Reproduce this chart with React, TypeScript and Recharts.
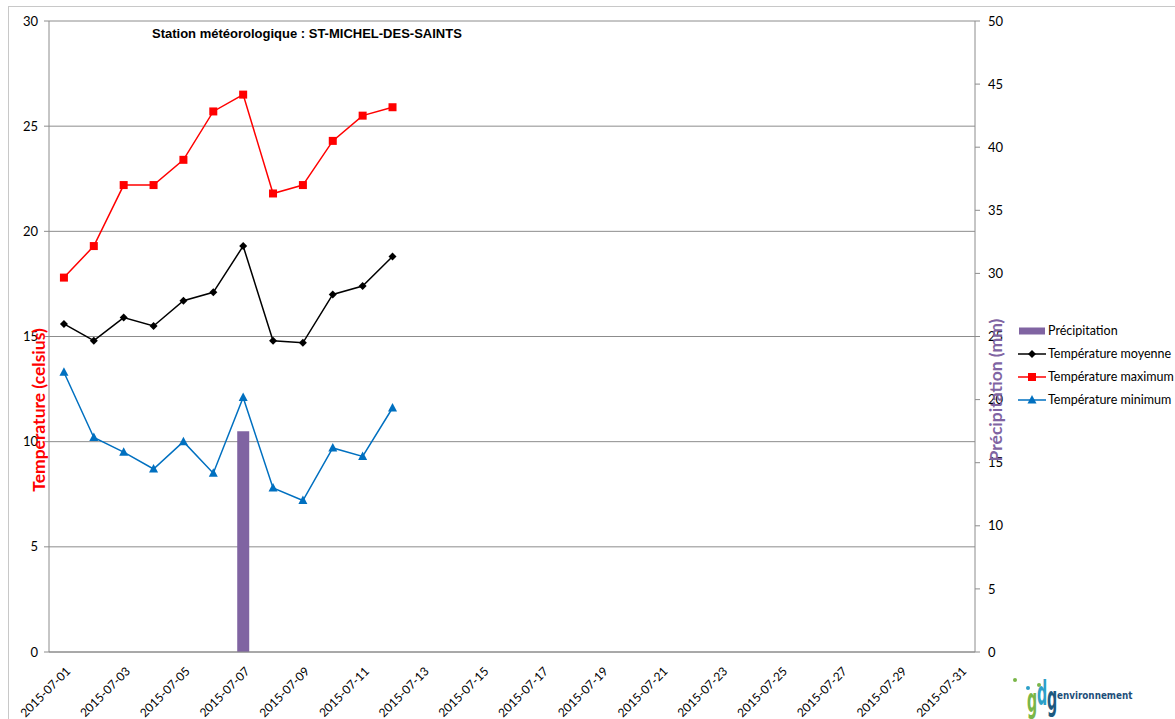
import {
  ComposedChart,
  Bar,
  Line,
  XAxis,
  YAxis,
  CartesianGrid,
} from 'recharts';

const dates = [
  '2015-07-01', '2015-07-02', '2015-07-03', '2015-07-04', '2015-07-05',
  '2015-07-06', '2015-07-07', '2015-07-08', '2015-07-09', '2015-07-10',
  '2015-07-11', '2015-07-12', '2015-07-13', '2015-07-14', '2015-07-15',
  '2015-07-16', '2015-07-17', '2015-07-18', '2015-07-19', '2015-07-20',
  '2015-07-21', '2015-07-22', '2015-07-23', '2015-07-24', '2015-07-25',
  '2015-07-26', '2015-07-27', '2015-07-28', '2015-07-29', '2015-07-30',
  '2015-07-31',
];

// 12 days recorded, the rest of the month is empty
const precipitation = [0, 0, 0, 0, 0, 0, 17.5, 0, 0, 0, 0, 0];
const tempMoyenne = [15.6, 14.8, 15.9, 15.5, 16.7, 17.1, 19.3, 14.8, 14.7, 17.0, 17.4, 18.8];
const tempMaximum = [17.8, 19.3, 22.2, 22.2, 23.4, 25.7, 26.5, 21.8, 22.2, 24.3, 25.5, 25.9];
const tempMinimum = [13.3, 10.2, 9.5, 8.7, 10.0, 8.5, 12.1, 7.8, 7.2, 9.7, 9.3, 11.6];

const tempTicks = [0, 5, 10, 15, 20, 25, 30];
const precipTicks = [0, 5, 10, 15, 20, 25, 30, 35, 40, 45, 50];
const boundaryTicks = Array.from({ length: dates.length + 1 }, (_, i) => i);

const rows = dates.map((date, i) => ({
  date,
  precip: precipitation[i] ?? null,
  moy: tempMoyenne[i] ?? null,
  max: tempMaximum[i] ?? null,
  min: tempMinimum[i] ?? null,
}));

const FONT = 'Lato, "Open Sans", sans-serif';
const PURPLE = '#8064A2';
const RED = '#FF0000';
const BLUE = '#0070C0';

const SquareDot = (props: any) => {
  const { cx, cy, value } = props;
  if (value == null || cx == null || cy == null) return null;
  return <rect x={cx - 4} y={cy - 4} width={8} height={8} fill={RED} />;
};

const DiamondDot = (props: any) => {
  const { cx, cy, value } = props;
  if (value == null || cx == null || cy == null) return null;
  return (
    <path
      d={`M${cx},${cy - 4}L${cx + 4},${cy}L${cx},${cy + 4}L${cx - 4},${cy}Z`}
      fill="#000"
    />
  );
};

const TriangleDot = (props: any) => {
  const { cx, cy, value } = props;
  if (value == null || cx == null || cy == null) return null;
  return (
    <path
      d={`M${cx},${cy - 5}L${cx + 4.5},${cy + 3.5}L${cx - 4.5},${cy + 3.5}Z`}
      fill={BLUE}
    />
  );
};

const DateTick = (props: any) => {
  const { x, y, payload } = props;
  const tx = x + 4;
  const ty = y + 9;
  return (
    <text
      x={tx}
      y={ty}
      transform={`rotate(-45 ${tx} ${ty})`}
      textAnchor="end"
      dominantBaseline="central"
      fontSize={12}
      fontFamily={FONT}
      fill="#000"
    >
      {payload.value}
    </text>
  );
};

const legendItems = [
  { label: 'Précipitation', kind: 'bar', color: PURPLE },
  { label: 'Température moyenne', kind: 'diamond', color: '#000' },
  { label: 'Température maximum', kind: 'square', color: RED },
  { label: 'Température minimum', kind: 'triangle', color: BLUE },
];

function LegendIcon({ kind, color }: { kind: string; color: string }) {
  return (
    <svg width={28} height={12} style={{ marginRight: 2 }}>
      {kind === 'bar' ? (
        <rect x={1} y={2.5} width={26} height={7} fill={color} />
      ) : (
        <line x1={0} y1={6} x2={28} y2={6} stroke={color} strokeWidth={1.5} />
      )}
      {kind === 'diamond' && <path d="M14,2L18,6L14,10L10,6Z" fill={color} />}
      {kind === 'square' && <rect x={10} y={2} width={8} height={8} fill={color} />}
      {kind === 'triangle' && <path d="M14,1L18.5,9.5L9.5,9.5Z" fill={color} />}
    </svg>
  );
}

const logoLetter = (ch: string, color: string, left: number, top: number) => (
  <div
    style={{
      position: 'absolute',
      left,
      top,
      fontFamily: '"DejaVu Sans", sans-serif',
      fontWeight: 700,
      fontSize: 34,
      lineHeight: '34px',
      color,
      transform: 'scaleX(0.42)',
      transformOrigin: 'left top',
    }}
  >
    {ch}
  </div>
);

export default function App() {
  return (
    <div
      style={{
        position: 'absolute',
        left: 0,
        top: 0,
        width: 1175,
        height: 719,
        background: '#fff',
        overflow: 'hidden',
      }}
    >
      <div
        style={{
          position: 'absolute',
          left: 8,
          top: 6,
          width: 1200,
          height: 800,
          borderLeft: '1px solid #c8c8c8',
          borderTop: '1px solid #c8c8c8',
        }}
      />
      <ComposedChart
        width={1175}
        height={719}
        data={rows}
        margin={{ top: 21, right: 0, bottom: 0, left: 0 }}
        style={{ position: 'absolute', left: 0, top: 0 }}
      >
        <CartesianGrid
          yAxisId="temp"
          vertical={false}
          stroke="#8c8c8c"
          strokeWidth={1}
        />
        <XAxis
          xAxisId="bounds"
          type="number"
          domain={[0, dates.length]}
          ticks={boundaryTicks}
          tick={false}
          tickSize={5}
          axisLine={false}
          tickLine={{ stroke: '#8c8c8c' }}
          height={0}
          allowDataOverflow
        />
        <XAxis
          dataKey="date"
          interval={1}
          tickLine={false}
          axisLine={{ stroke: '#8c8c8c' }}
          tick={<DateTick />}
          height={67}
        />
        <YAxis
          yAxisId="temp"
          orientation="left"
          domain={[0, 30]}
          ticks={tempTicks}
          width={49}
          tickSize={5}
          tickMargin={6}
          axisLine={{ stroke: '#8c8c8c' }}
          tickLine={{ stroke: '#8c8c8c' }}
          tick={{ fontSize: 13, fontFamily: FONT, fill: '#000' }}
        />
        <YAxis
          yAxisId="precip"
          orientation="right"
          domain={[0, 50]}
          ticks={precipTicks}
          width={200}
          tickSize={5}
          tickMargin={8}
          axisLine={{ stroke: '#8c8c8c' }}
          tickLine={{ stroke: '#8c8c8c' }}
          tick={{ fontSize: 13, fontFamily: FONT, fill: '#000' }}
        />
        <Bar
          yAxisId="precip"
          dataKey="precip"
          fill={PURPLE}
          barSize={12}
          isAnimationActive={false}
        />
        <Line
          yAxisId="temp"
          dataKey="moy"
          stroke="#000"
          strokeWidth={1.5}
          dot={<DiamondDot />}
          activeDot={false}
          isAnimationActive={false}
        />
        <Line
          yAxisId="temp"
          dataKey="max"
          stroke={RED}
          strokeWidth={1.5}
          dot={<SquareDot />}
          activeDot={false}
          isAnimationActive={false}
        />
        <Line
          yAxisId="temp"
          dataKey="min"
          stroke={BLUE}
          strokeWidth={1.5}
          dot={<TriangleDot />}
          activeDot={false}
          isAnimationActive={false}
        />
      </ComposedChart>

      {/* axis titles, drawn over the chart like Excel does */}
      <svg
        width={1175}
        height={719}
        style={{ position: 'absolute', left: 0, top: 0, pointerEvents: 'none' }}
      >
        <text
          x={38}
          y={410}
          transform="rotate(-90 38 410)"
          textAnchor="middle"
          dominantBaseline="central"
          fontSize={17.5}
          fontWeight={700}
          fontFamily={FONT}
          fill={RED}
        >
          Temperature (celsius)
        </text>
        <text
          x={995}
          y={390}
          transform="rotate(-90 995 390)"
          textAnchor="middle"
          dominantBaseline="central"
          fontSize={17.5}
          fontWeight={700}
          fontFamily={FONT}
          fill={PURPLE}
        >
          Précipitation (mm)
        </text>
      </svg>

      <div
        style={{
          position: 'absolute',
          left: 152,
          top: 26,
          fontFamily: '"Liberation Sans", Arial, sans-serif',
          fontWeight: 700,
          fontSize: 13,
          color: '#000',
          whiteSpace: 'nowrap',
        }}
      >
        Station météorologique : ST-MICHEL-DES-SAINTS
      </div>

      <div style={{ position: 'absolute', left: 1018, top: 319 }}>
        {legendItems.map((it) => (
          <div
            key={it.label}
            style={{
              display: 'flex',
              alignItems: 'center',
              height: 23,
              fontFamily: FONT,
              fontSize: 12.5,
              color: '#000',
              whiteSpace: 'nowrap',
            }}
          >
            <LegendIcon kind={it.kind} color={it.color} />
            {it.label}
          </div>
        ))}
      </div>

      <div style={{ position: 'absolute', left: 1005, top: 670, width: 140, height: 49 }}>
        <span style={{ position: 'absolute', left: 8, top: 8, width: 4, height: 4, borderRadius: 2, background: '#7ab648' }} />
        <span style={{ position: 'absolute', left: 21, top: 16, width: 4, height: 4, borderRadius: 2, background: '#2da0c8' }} />
        <span style={{ position: 'absolute', left: 32, top: 13, width: 4, height: 4, borderRadius: 2, background: '#7ab648' }} />
        {logoLetter('g', '#7ab648', 22, 13)}
        {logoLetter('d', '#2da0c8', 32, 6)}
        {logoLetter('g', '#1d5a80', 42, 11)}
        <div
          style={{
            position: 'absolute',
            left: 52,
            top: 19,
            fontFamily: '"DejaVu Sans", sans-serif',
            fontWeight: 700,
            fontSize: 11,
            color: '#1d4f7a',
            transform: 'scaleX(0.8)',
            transformOrigin: 'left top',
            whiteSpace: 'nowrap',
          }}
        >
          environnement
        </div>
      </div>
    </div>
  );
}
